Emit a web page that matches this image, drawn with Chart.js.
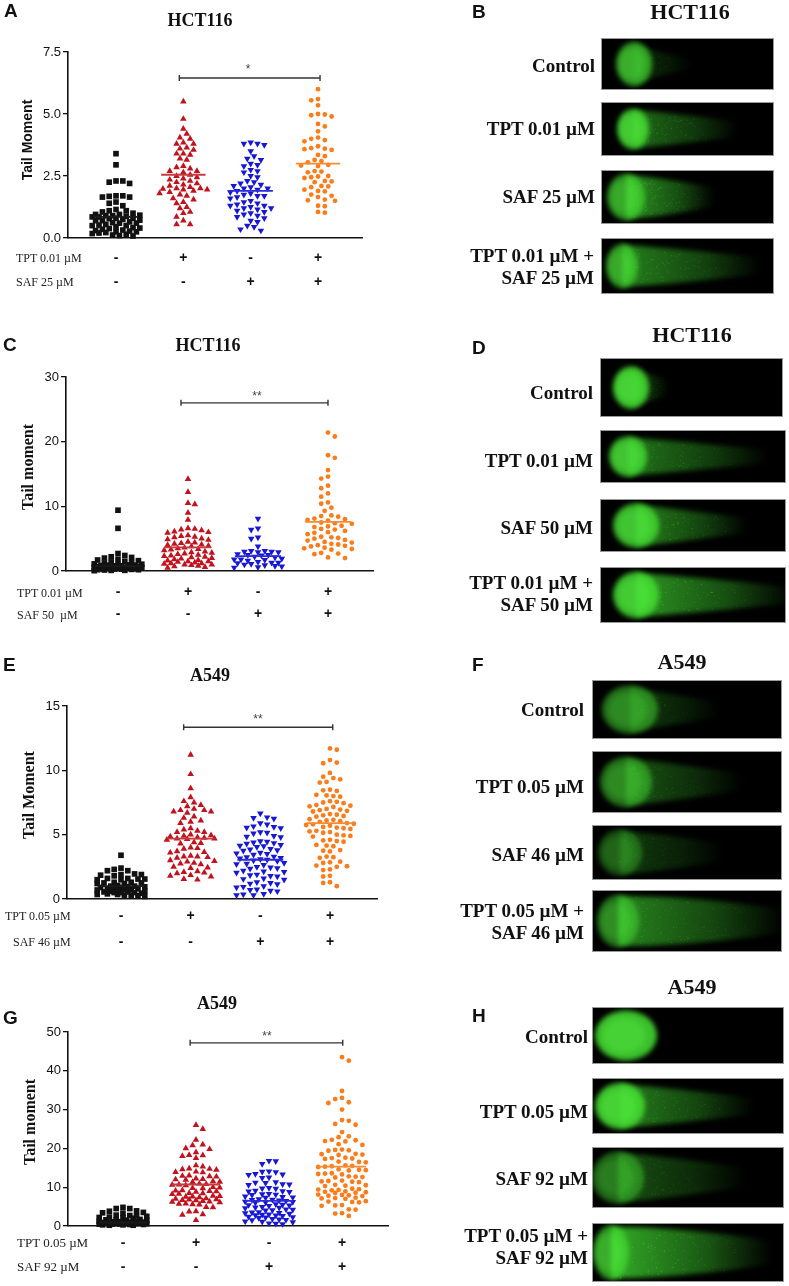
<!DOCTYPE html>
<html>
<head>
<meta charset="utf-8">
<title>Comet assay tail moment</title>
<script src="https://cdn.jsdelivr.net/npm/chart.js@4.4.1/dist/chart.umd.min.js"></script>
<style>
  body { margin: 0; background: #fff; }
  #fig { position: relative; width: 789px; height: 1286px; overflow: hidden; }
  #fig canvas { position: absolute; }
  .t { position: absolute; white-space: nowrap; line-height: 1; color: #111; }
  .l { transform: translateY(-50%); }
  .c { transform: translate(-50%, -50%); }
  .r { transform: translate(-100%, -50%); text-align: right; }
  .rot { transform: translate(-50%, -50%) rotate(-90deg); }
  .lt { font: bold 19px "Liberation Sans", Arial, sans-serif; }
  .ttl { font: bold 18px "Liberation Serif", "Times New Roman", serif; }
  .ttl2 { font: bold 22px "Liberation Serif", "Times New Roman", serif; }
  .yl { font: bold 16px "Liberation Serif", "Times New Roman", serif; }
  .ylA { font: bold 14px "Liberation Sans", Arial, sans-serif; }
  .row { font: 12px "Liberation Serif", "Times New Roman", serif; color: #222; }
  .st { font: 12px "Liberation Sans", Arial, sans-serif; color: #444; }
  .cl { font: bold 19px "Liberation Serif", "Times New Roman", serif; line-height: 22px; }
</style>
</head>
<body>
<div id="fig">
  <canvas id="comets" width="789" height="1286" style="left:0;top:0;width:789px;height:1286px"></canvas>
  <canvas id="cA"></canvas>
  <canvas id="cC"></canvas>
  <canvas id="cE"></canvas>
  <canvas id="cG"></canvas>

  <!-- panel letters -->
  <div class="t lt l" style="left:4px;top:11px">A</div>
  <div class="t lt l" style="left:472px;top:12px">B</div>
  <div class="t lt l" style="left:3px;top:345px">C</div>
  <div class="t lt l" style="left:472px;top:348px">D</div>
  <div class="t lt l" style="left:3px;top:665px">E</div>
  <div class="t lt l" style="left:472px;top:665px">F</div>
  <div class="t lt l" style="left:3px;top:1018px">G</div>
  <div class="t lt l" style="left:472px;top:1016px">H</div>

  <!-- titles -->
  <div class="t ttl c" style="left:200px;top:20px">HCT116</div>
  <div class="t ttl c" style="left:208px;top:345px">HCT116</div>
  <div class="t ttl c" style="left:210px;top:675px">A549</div>
  <div class="t ttl c" style="left:217px;top:1003px">A549</div>
  <div class="t ttl2 c" style="left:690px;top:12px">HCT116</div>
  <div class="t ttl2 c" style="left:692px;top:335px">HCT116</div>
  <div class="t ttl2 c" style="left:682px;top:662px">A549</div>
  <div class="t ttl2 c" style="left:692px;top:987px">A549</div>

  <!-- y axis titles -->
  <div class="t ylA rot" style="left:27px;top:140px">Tail Moment</div>
  <div class="t yl rot" style="left:28px;top:467px">Tail moment</div>
  <div class="t yl rot" style="left:29px;top:795px">Tail Moment</div>
  <div class="t yl rot" style="left:30px;top:1122px">Tail moment</div>

  <!-- treatment row names -->
  <div class="t row l" style="left:16px;top:258px">TPT 0.01 µM</div>
  <div class="t row l" style="left:16px;top:282px">SAF 25 µM</div>
  <div class="t row l" style="left:17px;top:593px">TPT 0.01 µM</div>
  <div class="t row l" style="left:17px;top:615px">SAF 50&nbsp; µM</div>
  <div class="t row l" style="left:5px;top:916px">TPT 0.05 µM</div>
  <div class="t row l" style="left:13px;top:942px">SAF 46 µM</div>
  <div class="t row l" style="left:17px;top:1243px;font-size:13px">TPT 0.05 µM</div>
  <div class="t row l" style="left:17px;top:1267px;font-size:13px">SAF 92 µM</div>

  <!-- significance marks -->
  <div class="t st c" style="left:248px;top:69px">*</div>
  <div class="t st c" style="left:257px;top:396px">**</div>
  <div class="t st c" style="left:258px;top:719px">**</div>
  <div class="t st c" style="left:267px;top:1036px">**</div>

  <!-- comet labels -->
  <div class="t cl r" style="left:595px;top:66px">Control</div>
  <div class="t cl r" style="left:595px;top:129px">TPT 0.01 µM</div>
  <div class="t cl r" style="left:595px;top:197px">SAF 25 µM</div>
  <div class="t cl r" style="left:594px;top:267px">TPT 0.01 µM +<br>SAF 25 µM</div>

  <div class="t cl r" style="left:593px;top:393px">Control</div>
  <div class="t cl r" style="left:593px;top:461px">TPT 0.01 µM</div>
  <div class="t cl r" style="left:593px;top:528px">SAF 50 µM</div>
  <div class="t cl r" style="left:593px;top:594px">TPT 0.01 µM +<br>SAF 50 µM</div>

  <div class="t cl r" style="left:584px;top:710px">Control</div>
  <div class="t cl r" style="left:584px;top:787px">TPT 0.05 µM</div>
  <div class="t cl r" style="left:584px;top:855px">SAF 46 µM</div>
  <div class="t cl r" style="left:584px;top:922px">TPT 0.05 µM +<br>SAF 46 µM</div>

  <div class="t cl r" style="left:588px;top:1037px">Control</div>
  <div class="t cl r" style="left:588px;top:1112px">TPT 0.05 µM</div>
  <div class="t cl r" style="left:588px;top:1179px">SAF 92 µM</div>
  <div class="t cl r" style="left:588px;top:1247px">TPT 0.05 µM +<br>SAF 92 µM</div>
</div>

<script>
// ---- data ----
const CATS   = [1, 2, 3, 4];
const tptRow = ['-', '+', '-', '+'];
const safRow = ['-', '-', '+', '+'];

// A: HCT116, TPT 0.01 / SAF 25
const aCtrl = [3.4, 2.95, 2.3, 2.3, 2.25, 2.2, 1.7, 1.7, 1.68, 1.65, 1.65, 1.45, 1.4, 1.3, 1.15, 1.1, 1.1, 1.05, 1.0, 0.95,
  0.95, 0.92, 0.9, 0.9, 0.88, 0.85, 0.85, 0.8, 0.8, 0.78, 0.75, 0.72, 0.7, 0.7, 0.65, 0.62, 0.6, 0.6, 0.55, 0.52,
  0.5, 0.5, 0.45, 0.42, 0.4, 0.38, 0.35, 0.32, 0.3, 0.28, 0.25, 0.25, 0.22, 0.2, 0.18, 0.15, 0.12, 0.1, 0.08];
const aTpt = [5.5, 4.8, 4.4, 4.2, 4.05, 4.0, 3.85, 3.8, 3.8, 3.65, 3.6, 3.55, 3.4, 3.4, 3.35, 3.2, 3.15, 2.9, 2.85, 2.8,
  2.7, 2.7, 2.65, 2.55, 2.5, 2.45, 2.4, 2.35, 2.3, 2.25, 2.2, 2.15, 2.1, 2.05, 2.0, 2.0, 1.98, 1.95, 1.95, 1.9,
  1.85, 1.8, 1.75, 1.7, 1.6, 1.55, 1.45, 1.4, 1.25, 1.2, 1.05, 1.0, 0.85, 0.7, 0.55, 0.55];
const aSaf = [3.85, 3.8, 3.8, 3.75, 3.5, 3.3, 3.2, 3.15, 3.0, 2.95, 2.9, 2.75, 2.7, 2.65, 2.5, 2.45, 2.3, 2.25, 2.2, 2.15,
  2.1, 2.05, 2.0, 2.0, 1.95, 1.9, 1.85, 1.8, 1.75, 1.7, 1.7, 1.65, 1.6, 1.5, 1.45, 1.4, 1.35, 1.3, 1.3, 1.25,
  1.2, 1.2, 1.15, 1.1, 1.05, 1.0, 0.95, 0.9, 0.85, 0.8, 0.7, 0.65, 0.5, 0.45, 0.35, 0.3];
const aCombo = [6.0, 5.6, 5.55, 5.35, 5.0, 4.98, 4.95, 4.9, 4.6, 4.5, 4.3, 4.05, 4.0, 3.95, 3.9, 3.7, 3.62, 3.6, 3.58, 3.55,
  3.35, 3.3, 3.15, 3.1, 3.05, 2.95, 2.92, 2.9, 2.7, 2.68, 2.65, 2.5, 2.48, 2.45, 2.42, 2.3, 2.28, 2.25, 2.1, 2.08,
  2.05, 1.95, 1.9, 1.88, 1.75, 1.7, 1.65, 1.55, 1.52, 1.5, 1.3, 1.28, 1.05, 1.02];
const aMeans   = [0.85, 2.55, 1.9, 3.0];
const aBracket = [1.94, 4.03, 6.45];

// C: HCT116, TPT 0.01 / SAF 50
const cCtrl = [9.4, 6.6, 2.7, 2.4, 2.2, 2.1, 2.0, 1.8, 1.7, 1.6, 1.5, 1.4, 1.3, 1.2, 1.1, 1.05, 1.0, 0.95, 0.9, 0.9,
  0.85, 0.8, 0.8, 0.75, 0.7, 0.7, 0.65, 0.6, 0.6, 0.55, 0.5, 0.5, 0.45, 0.4, 0.4, 0.35, 0.3, 0.3, 0.25, 0.2,
  0.2, 0.15, 0.1, 0.1, 0.05];
const cTpt = [14.2, 12.2, 10.5, 10.3, 9.0, 7.9, 6.6, 6.5, 6.4, 6.3, 6.1, 6.0, 5.9, 5.5, 5.4, 5.3, 5.2, 5.0, 4.9, 4.8,
  4.5, 4.4, 4.3, 4.2, 4.1, 4.0, 3.9, 3.8, 3.6, 3.5, 3.4, 3.3, 3.2, 3.0, 2.9, 2.8, 2.7, 2.6, 2.5, 2.4,
  2.3, 2.2, 2.1, 2.0, 1.9, 1.8, 1.7, 1.6, 1.5, 1.5, 1.4, 1.3, 1.2, 1.2, 1.1, 1.0, 1.0, 0.9, 0.8, 0.7, 0.6, 0.5];
const cSaf = [8.1, 6.6, 6.4, 5.2, 5.0, 3.8, 3.1, 3.1, 3.0, 3.0, 2.9, 2.9, 2.6, 2.5, 2.5, 2.4, 2.2, 2.1, 1.9, 1.8,
  1.8, 1.7, 1.6, 1.4, 1.3, 1.3, 1.2, 1.1, 1.0, 0.9, 0.8, 0.7, 0.6, 0.5];
const cCombo = [21.4, 20.8, 17.9, 17.5, 15.6, 14.6, 14.3, 13.2, 12.8, 12.0, 11.5, 10.6, 10.4, 9.8, 9.3, 8.6, 8.5, 8.4, 8.1, 8.0,
  7.9, 7.8, 7.5, 7.4, 7.3, 7.0, 6.9, 6.8, 6.5, 6.4, 6.2, 6.0, 5.9, 5.7, 5.3, 5.2, 5.1, 5.0, 4.8, 4.7,
  4.5, 4.4, 4.2, 4.1, 4.0, 3.9, 3.8, 3.6, 3.5, 3.4, 3.3, 2.8, 2.7, 2.6, 2.1, 2.0];
const cMeans   = [0.75, 3.65, 2.3, 7.6];
const cBracket = [1.9, 4.0, 26.0];

// E: A549, TPT 0.05 / SAF 46
const eCtrl = [3.4, 2.4, 2.3, 2.2, 2.2, 1.95, 1.9, 1.9, 1.85, 1.8, 1.6, 1.6, 1.55, 1.55, 1.5, 1.5, 1.3, 1.3, 1.25, 1.25,
  1.2, 1.2, 1.05, 1.0, 1.0, 0.95, 0.95, 0.9, 0.9, 0.85, 0.8, 0.8, 0.75, 0.75, 0.7, 0.7, 0.6, 0.6, 0.55, 0.55,
  0.5, 0.5, 0.5, 0.45, 0.4, 0.35, 0.35, 0.3, 0.3, 0.25, 0.2];
const eTpt = [11.2, 9.7, 8.6, 7.9, 7.6, 7.5, 7.3, 7.2, 7.0, 6.9, 6.9, 6.8, 6.8, 6.7, 6.4, 6.3, 6.1, 6.0, 5.9, 5.5,
  5.4, 5.3, 5.2, 5.2, 5.0, 4.95, 4.9, 4.85, 4.8, 4.75, 4.7, 4.7, 4.65, 4.6, 4.4, 4.35, 4.3, 4.0, 3.95, 3.9,
  3.7, 3.65, 3.6, 3.35, 3.3, 3.3, 3.25, 3.2, 3.0, 2.95, 2.9, 2.8, 2.75, 2.7, 2.5, 2.45, 2.4, 2.15, 2.1, 2.05,
  2.0, 1.85, 1.8, 1.75, 1.55, 1.5];
const eSaf = [6.65, 6.35, 6.3, 6.25, 5.9, 5.8, 5.65, 5.6, 5.55, 5.5, 5.2, 5.15, 5.1, 4.9, 4.85, 4.8, 4.5, 4.45, 4.4, 4.35,
  4.3, 4.2, 4.15, 4.1, 4.05, 3.9, 3.85, 3.8, 3.75, 3.6, 3.55, 3.5, 3.45, 3.3, 3.25, 3.2, 3.15, 3.1, 3.05, 3.0,
  2.95, 2.8, 2.75, 2.7, 2.65, 2.5, 2.45, 2.4, 2.35, 2.2, 2.15, 2.1, 2.05, 1.9, 1.85, 1.8, 1.75, 1.6, 1.55, 1.5,
  1.3, 1.25, 1.2, 1.15, 1.0, 0.95, 0.9, 0.75, 0.7, 0.65, 0.6, 0.4, 0.35, 0.3, 0.3];
const eCombo = [11.7, 11.6, 10.8, 10.6, 10.55, 9.8, 9.5, 9.4, 9.3, 9.1, 9.05, 8.5, 8.45, 8.4, 8.1, 8.05, 8.0, 7.95, 7.6, 7.55,
  7.5, 7.45, 7.3, 7.25, 7.2, 7.15, 7.0, 6.95, 6.9, 6.85, 6.8, 6.6, 6.55, 6.5, 6.45, 6.4, 6.2, 6.15, 6.1, 6.05,
  6.0, 5.9, 5.85, 5.8, 5.75, 5.7, 5.6, 5.55, 5.5, 5.45, 5.3, 5.25, 5.2, 5.15, 5.0, 4.95, 4.9, 4.85, 4.6, 4.55,
  4.5, 4.45, 4.2, 4.15, 4.1, 3.8, 3.75, 3.7, 3.3, 3.25, 3.2, 2.9, 2.85, 2.8, 2.6, 2.55, 2.5, 2.3, 2.25, 1.8,
  1.75, 1.3, 1.25, 1.0];
const eMeans   = [1.0, 4.7, 3.05, 5.9];
const eBracket = [1.9, 4.04, 13.35];

// G: A549, TPT 0.05 / SAF 92
const gCtrl = [4.8, 4.5, 4.5, 3.9, 3.8, 3.5, 3.4, 3.3, 2.8, 2.7, 2.6, 2.5, 2.3, 2.2, 2.1, 2.0, 1.7, 1.6, 1.6, 1.5,
  1.4, 1.2, 1.2, 1.1, 1.1, 1.0, 1.0, 0.9, 0.9, 0.8, 0.8, 0.8, 0.7, 0.7, 0.6, 0.6, 0.6, 0.5, 0.5, 0.5,
  0.4, 0.4, 0.3, 0.3, 0.2, 0.2];
const gTpt = [26.0, 25.0, 22.2, 21.0, 20.8, 20.0, 19.8, 19.0, 18.3, 18.2, 18.0, 17.5, 15.6, 15.3, 14.8, 14.7, 14.6, 14.5, 14.0, 13.9,
  13.8, 13.0, 12.9, 12.8, 12.7, 12.2, 12.1, 12.0, 11.9, 11.5, 11.4, 11.3, 10.9, 10.8, 10.7, 10.6, 10.5, 10.0, 9.9, 9.8,
  9.7, 9.2, 9.1, 9.0, 8.9, 8.8, 8.5, 8.4, 8.3, 8.2, 7.8, 7.7, 7.6, 7.5, 7.4, 7.1, 7.0, 6.9, 6.8, 6.7,
  6.6, 6.4, 6.3, 6.2, 6.1, 5.8, 5.7, 5.6, 5.5, 4.9, 4.8, 3.8, 3.7, 3.0, 2.9, 1.5];
const gSaf = [16.8, 16.7, 16.0, 14.1, 14.0, 13.9, 13.4, 13.3, 13.2, 12.5, 12.4, 11.3, 11.2, 11.1, 10.8, 10.7, 10.6, 9.8, 9.7, 9.6,
  9.1, 9.0, 8.9, 8.8, 8.3, 8.2, 8.1, 8.0, 7.6, 7.5, 7.4, 7.3, 6.9, 6.8, 6.7, 6.6, 6.5, 6.3, 6.2, 6.1,
  6.0, 5.6, 5.5, 5.4, 5.3, 5.2, 4.9, 4.8, 4.7, 4.6, 4.3, 4.2, 4.1, 4.0, 3.6, 3.5, 3.4, 3.3, 3.2, 3.0,
  2.9, 2.8, 2.7, 2.6, 2.4, 2.3, 2.2, 2.1, 1.8, 1.7, 1.6, 1.5, 1.2, 1.1, 1.0, 0.7, 0.6, 0.5];
const gCombo = [43.5, 42.6, 34.8, 33.0, 32.7, 31.9, 31.7, 30.0, 27.3, 27.1, 26.3, 26.1, 24.2, 23.1, 22.9, 22.2, 22.1, 21.9, 21.8, 21.1,
  20.9, 19.7, 19.6, 19.5, 19.4, 18.6, 18.5, 18.4, 18.3, 17.6, 17.5, 17.4, 17.3, 16.6, 16.5, 16.4, 15.6, 15.5, 15.4, 15.3,
  15.2, 14.6, 14.5, 14.4, 14.3, 13.6, 13.5, 13.4, 13.3, 12.8, 12.7, 12.6, 12.5, 11.7, 11.6, 11.5, 11.4, 11.3, 10.6, 10.5,
  10.4, 10.3, 9.6, 9.5, 9.4, 9.3, 9.2, 8.9, 8.8, 8.7, 8.6, 8.5, 8.1, 8.0, 7.9, 7.8, 7.7, 7.3, 7.2, 7.1,
  7.0, 6.4, 6.3, 6.2, 6.1, 5.4, 5.3, 5.2, 4.3, 4.2, 3.3, 3.2, 2.6];
const gMeans   = [0.9, 10.7, 6.5, 15.3];
const gBracket = [1.92, 4.01, 47.2];

// ---- styling ----
const COLORS      = ['#111111', '#c2121e', '#1717d6', '#fb7c1a'];
const MEAN_COLORS = ['#1a1a1a', '#c63a42', '#2b2bd9', '#f98c32'];
const MARKS = [
  { style: 'rect',     r: 4.0, rot: 0 },
  { style: 'triangle', r: 3.8, rot: 0 },
  { style: 'triangle', r: 3.8, rot: 180 },
  { style: 'circle',   r: 2.4, rot: 0 },
];
const MEAN_HALF = 0.33;

Chart.defaults.font.family = '"Liberation Sans", Arial, sans-serif';
Chart.defaults.color = '#111';

// column scatter: spread close values sideways within a fixed column width
function swarm(vals, cat, chart) {
  const xs = chart.scales.x, ys = chart.scales.y;
  const cx = xs.getPixelForValue(cat);
  const D = 5.8, S = 3.4, MAXK = 7;
  const placed = [];
  let flip = 1;
  return vals.slice().sort((a, b) => b - a).map(v => {
    const py = ys.getPixelForValue(v);
    flip = -flip;
    let best = null, bestGap = -1;
    for (let k = 0; k <= MAXK; k++) {
      const offs = k === 0 ? [0] : [flip * k * S, -flip * k * S];
      for (const o of offs) {
        const px = cx + o;
        let gap = Infinity;
        for (const q of placed) gap = Math.min(gap, Math.hypot(q[0] - px, q[1] - py));
        if (gap >= D) { best = px; bestGap = Infinity; break; }
        if (gap > bestGap + 0.01) { bestGap = gap; best = px; }
      }
      if (bestGap === Infinity) break;
    }
    placed.push([best, py]);
    return { x: xs.getValueForPixel(best), y: v };
  });
}

function buildPanel(p) {
  const cv = document.getElementById(p.id);
  const [aL, aT, aR, aB] = p.area;
  cv.width = 400; cv.height = p.h;
  cv.style.left = '0px'; cv.style.top = p.top + 'px';
  cv.style.width = '400px'; cv.style.height = p.h + 'px';

  const pts = p.groups.map((vals, g) => ({
    data: [], order: 2, clip: false,
    pointBackgroundColor: COLORS[g], pointBorderWidth: 0,
    pointStyle: MARKS[g].style, pointRadius: MARKS[g].r, rotation: MARKS[g].rot,
  }));
  const means = p.means.map((m, g) => ({
    data: [{ x: CATS[g] - MEAN_HALF, y: m }, { x: CATS[g] + MEAN_HALF, y: m }],
    showLine: true, pointRadius: 0, borderColor: MEAN_COLORS[g], borderWidth: 1.8, order: 1, clip: false,
  }));
  const bracket = { data: [], showLine: true, pointRadius: 0, borderColor: '#333', borderWidth: 1.4, order: 1, clip: false };

  const chart = new Chart(cv, {
    type: 'scatter',
    data: { datasets: [...pts, ...means, bracket] },
    options: {
      responsive: false,
      animation: false,
      events: [],
      layout: { padding: { left: 0, top: aT - p.top, right: 400 - aR, bottom: 0 } },
      plugins: { legend: { display: false }, tooltip: { enabled: false } },
      scales: {
        x: {
          type: 'linear', min: p.xr[0], max: p.xr[1],
          grid: { display: false, drawTicks: false },
          border: { display: true, color: '#111', width: 1.6 },
          afterBuildTicks: s => { s.ticks = CATS.map(v => ({ value: v })); },
          afterFit: s => { s.height = p.top + p.h - aB; },
          ticks: {
            autoSkip: false, maxRotation: 0, padding: p.pad, color: '#111',
            font: { size: 14, weight: 'bold', lineHeight: p.lh + 'px' },
            callback: v => [tptRow[v - 1], safRow[v - 1]],
          },
        },
        y: {
          type: 'linear', min: 0, max: p.yMax,
          afterFit: s => { s.width = aL; },
          grid: { display: true, drawOnChartArea: false, drawTicks: true, tickLength: 5, color: '#111', lineWidth: 1.3 },
          border: { display: true, color: '#111', width: 1.6 },
          ticks: { stepSize: p.step, padding: 2, color: '#111', font: { size: 13 }, callback: v => v.toFixed(p.dec) },
        },
      },
    },
  });

  p.groups.forEach((vals, g) => { chart.data.datasets[g].data = swarm(vals, CATS[g], chart); });
  const ys = chart.scales.y;
  const [b0, b1, by] = p.bracket;
  const d = ys.getValueForPixel(ys.getPixelForValue(by) - 3) - by;
  chart.data.datasets[8].data = [
    { x: b0, y: by - d }, { x: b0, y: by + d }, { x: b0, y: by },
    { x: b1, y: by }, { x: b1, y: by + d }, { x: b1, y: by - d },
  ];
  chart.update('none');
}

const panels = [
  { id: 'cA', top: 0,   h: 300, area: [68, 52, 362, 238],    xr: [0.287, 4.653], yMax: 7.5, step: 2.5, dec: 1,
    groups: [aCtrl, aTpt, aSaf, aCombo], means: aMeans, bracket: aBracket, pad: 8, lh: 24 },
  { id: 'cC', top: 310, h: 320, area: [66, 377, 373, 571],   xr: [0.257, 4.643], yMax: 30, step: 10, dec: 0,
    groups: [cCtrl, cTpt, cSaf, cCombo], means: cMeans, bracket: cBracket, pad: 10, lh: 22 },
  { id: 'cE', top: 630, h: 330, area: [67, 706, 377, 899],   xr: [0.225, 4.675], yMax: 15, step: 5, dec: 0,
    groups: [eCtrl, eTpt, eSaf, eCombo], means: eMeans, bracket: eBracket, pad: 4, lh: 26 },
  { id: 'cG', top: 950, h: 336, area: [68, 1032, 388, 1226], xr: [0.247, 4.630], yMax: 50, step: 10, dec: 0,
    groups: [gCtrl, gTpt, gSaf, gCombo], means: gMeans, bracket: gBracket, pad: 5, lh: 24 },
];
panels.forEach(buildPanel);

// ---- comet micrographs (decorative) ----
// box [x0,y0,x1,y1], head centre/radii, tail end / half-width, head and tail brightness
const COMETS = [
  { b: [601, 38, 774, 90],    hx: 634, rx: 18, ry: 22, te: 692, tw: 11, h: 0.78, t: 0.22 },
  { b: [601, 102, 774, 156],  hx: 633, rx: 16, ry: 20, te: 738, tw: 16, h: 0.95, t: 0.5 },
  { b: [601, 170, 774, 224],  hx: 626, rx: 19, ry: 23, te: 715, tw: 20, h: 0.75, t: 0.7 },
  { b: [601, 238, 774, 294],  hx: 622, rx: 16, ry: 22, te: 760, tw: 18, h: 0.75, t: 0.6 },
  { b: [600, 358, 783, 417],  hx: 631, rx: 18, ry: 21, te: 670, tw: 15, h: 1.0,  t: 0.3 },
  { b: [600, 430, 786, 483],  hx: 628, rx: 19, ry: 20, te: 768, tw: 15, h: 0.92, t: 0.55 },
  { b: [600, 499, 786, 552],  hx: 636, rx: 23, ry: 22, te: 748, tw: 16, h: 0.92, t: 0.6 },
  { b: [600, 567, 786, 623],  hx: 636, rx: 23, ry: 23, te: 792, tw: 18, h: 0.96, t: 0.7 },
  { b: [592, 680, 782, 739],  hx: 630, rx: 28, ry: 24, te: 720, tw: 16, h: 0.58, t: 0.28 },
  { b: [592, 751, 782, 813],  hx: 626, rx: 26, ry: 25, te: 742, tw: 19, h: 0.58, t: 0.4 },
  { b: [592, 825, 782, 880],  hx: 620, rx: 22, ry: 23, te: 724, tw: 19, h: 0.4,  t: 0.28 },
  { b: [592, 890, 782, 952],  hx: 618, rx: 21, ry: 26, te: 784, tw: 26, h: 0.6,  t: 0.62 },
  { b: [592, 1007, 784, 1064], hx: 626, rx: 31, ry: 25, te: 0,   tw: 0,  h: 1.0,  t: 0 },
  { b: [592, 1078, 784, 1134], hx: 620, rx: 25, ry: 23, te: 754, tw: 18, h: 1.0,  t: 0.6 },
  { b: [592, 1147, 784, 1208], hx: 618, rx: 26, ry: 26, te: 747, tw: 21, h: 0.52, t: 0.38 },
  { b: [592, 1223, 784, 1282], hx: 611, rx: 18, ry: 27, te: 772, tw: 26, h: 0.78, t: 0.8 },
];

function drawComets() {
  const ctx = document.getElementById('comets').getContext('2d');
  let seed = 12345;
  const rnd = () => (seed = (seed * 16807) % 2147483647) / 2147483647;
  COMETS.forEach(c => {
    const [x0, y0, x1, y1] = c.b;
    const cy = (y0 + y1) / 2;
    ctx.save();
    ctx.fillStyle = '#000';
    ctx.fillRect(x0, y0, x1 - x0, y1 - y0);
    ctx.beginPath(); ctx.rect(x0, y0, x1 - x0, y1 - y0); ctx.clip();
    ctx.filter = 'blur(2.5px)';
    if (c.te > c.hx) {
      const g = ctx.createLinearGradient(c.hx, 0, c.te, 0);
      g.addColorStop(0, `rgba(64,215,48,${c.t})`);
      g.addColorStop(0.6, `rgba(64,215,48,${c.t * 0.5})`);
      g.addColorStop(1, 'rgba(64,215,48,0)');
      ctx.fillStyle = g;
      const mid = c.hx + (c.te - c.hx) * 0.4;
      ctx.beginPath();
      ctx.moveTo(c.hx, cy - c.ry * 0.95);
      ctx.quadraticCurveTo(mid, cy - c.tw, c.te, cy - c.tw * 0.45);
      ctx.lineTo(c.te, cy + c.tw * 0.45);
      ctx.quadraticCurveTo(mid, cy + c.tw, c.hx, cy + c.ry * 0.95);
      ctx.closePath();
      ctx.fill();
    }
    ctx.fillStyle = `rgba(70,226,52,${c.h * 0.85})`;
    ctx.beginPath(); ctx.ellipse(c.hx, cy, c.rx, c.ry, 0, 0, Math.PI * 2); ctx.fill();
    ctx.fillStyle = `rgba(90,240,70,${c.h * 0.35})`;
    ctx.beginPath(); ctx.ellipse(c.hx - 2, cy, c.rx * 0.7, c.ry * 0.7, 0, 0, Math.PI * 2); ctx.fill();
    ctx.filter = 'none';
    if (c.te > c.hx) {
      for (let i = 0; i < 260; i++) {
        const f = rnd();
        const x = c.hx + f * (c.te - c.hx);
        const y = cy + (rnd() - 0.5) * 2 * c.tw * (1 - 0.45 * f);
        ctx.fillStyle = `rgba(80,230,60,${(c.t * 0.8 * rnd() * (1 - f)).toFixed(3)})`;
        ctx.fillRect(x, y, 1, 1);
      }
    }
    ctx.restore();
    ctx.strokeStyle = '#9a9a9a';
    ctx.lineWidth = 1;
    ctx.strokeRect(x0 + 0.5, y0 + 0.5, x1 - x0 - 1, y1 - y0 - 1);
  });
}
drawComets();
</script>
</body>
</html>
